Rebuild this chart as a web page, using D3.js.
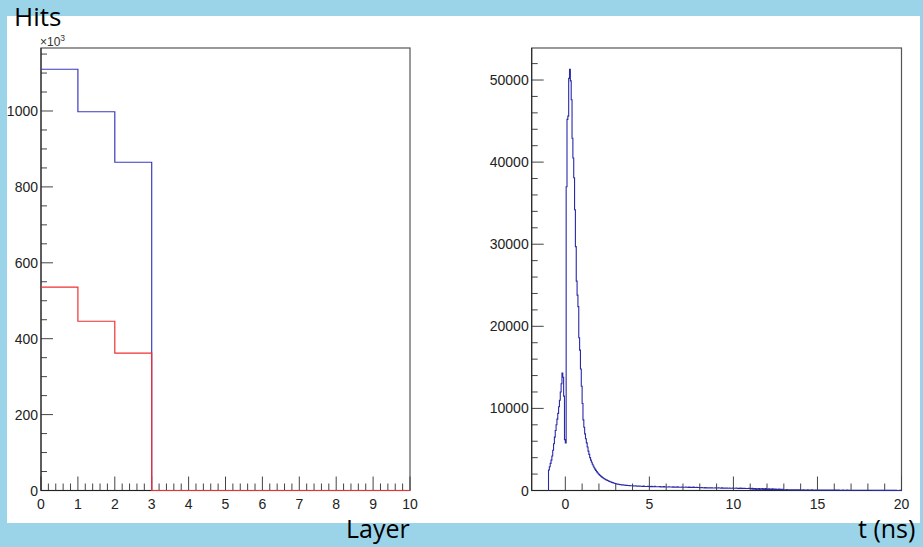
<!DOCTYPE html>
<html>
<head>
<meta charset="utf-8">
<script src="https://cdn.jsdelivr.net/npm/d3@7"></script>
<style>
  html, body { margin: 0; padding: 0; background: #9bd4e8; }
  svg { display: block; }
</style>
</head>
<body>
<svg id="chart" width="923" height="547"></svg>
<script>
// ---- Hits per layer (in units of 10^3), bin edges 0..10 ----
const layerEdges = [0, 1, 2, 3, 4, 5, 6, 7, 8, 9, 10];
const hitsAll  = [1110, 998, 865, 0, 0, 0, 0, 0, 0, 0];
const hitsSel  = [536, 446, 362, 0, 0, 0, 0, 0, 0, 0];
const layerTicks = [0, 1, 2, 3, 4, 5, 6, 7, 8, 9, 10];
const hitsTicks = [0, 200, 400, 600, 800, 1000];

// ---- Hit time distribution: 0.05 ns bins from -1 to 20 ns ----
const timeStart = -1;
const timeBinWidth = 0.05;
const timeCounts = [
  // -1 .. 0
  2500, 2900, 3300, 3700, 4200, 4900, 5700, 6500, 7300, 8000, 8700, 9400, 10200, 11000, 12000, 13000, 14300, 13800, 11500, 6200,
  // 0 .. 1
  5800, 37000, 45200, 45600, 50200, 51300, 49900, 47600, 42900, 40500, 38100, 34200, 29700, 25500, 23800, 22400, 18600, 17100, 14800, 12700,
  // 1 .. 2
  10600, 8600, 7700, 6900, 6300, 5800, 5300, 4800, 4400, 4000, 3700, 3450, 3200, 2980, 2780, 2600, 2450, 2300, 2160, 2040,
  // 2 .. 3
  1930, 1830, 1740, 1660, 1580, 1500, 1430, 1370, 1310, 1260, 1210, 1160, 1110, 1070, 1030, 990, 955, 920, 885, 855,
  // 3 .. 4
  825, 800, 780, 760, 740, 720, 705, 690, 680, 665, 650, 640, 630, 620, 610, 600, 592, 584, 576, 570,
  // 4 .. 5
  562, 556, 550, 580, 540, 535, 530, 525, 555, 515, 510, 506, 502, 530, 495, 491, 488, 485, 510, 480,
  // 5 .. 6
  476, 472, 520, 468, 465, 462, 500, 460, 456, 452, 450, 448, 490, 445, 442, 440, 438, 470, 435, 432,
  // 6 .. 7
  430, 428, 426, 460, 424, 420, 418, 416, 450, 414, 412, 410, 408, 440, 406, 404, 402, 400, 430, 398,
  // 7 .. 8
  396, 394, 392, 430, 390, 388, 386, 420, 384, 382, 380, 378, 415, 376, 374, 372, 405, 370, 368, 366,
  // 8 .. 9
  340, 335, 362, 330, 328, 325, 352, 322, 320, 318, 340, 316, 314, 312, 335, 310, 308, 306, 330, 304,
  // 9 .. 10
  302, 300, 325, 298, 296, 294, 318, 292, 290, 288, 286, 310, 284, 282, 280, 305, 278, 276, 274, 300,
  // 10 .. 11
  272, 270, 268, 290, 266, 264, 262, 260, 285, 258, 256, 254, 252, 278, 250, 248, 246, 244, 270, 242,
  // 11 .. 12
  240, 180, 260, 150, 230, 170, 250, 140, 220, 160, 240, 130, 210, 150, 235, 125, 200, 140, 225, 120,
  // 12 .. 13
  190, 130, 215, 115, 180, 125, 200, 110, 170, 120, 190, 105, 160, 110, 175, 100, 150, 105, 160, 95,
  // 13 .. 14
  95, 92, 90, 110, 88, 86, 84, 100, 82, 80, 79, 95, 78, 77, 76, 74, 90, 73, 72, 71,
  // 14 .. 15
  70, 69, 68, 80, 67, 66, 65, 64, 76, 63, 62, 61, 60, 72, 59, 58, 57, 56, 68, 55,
  // 15 .. 16
  55, 54, 53, 52, 60, 51, 50, 50, 49, 58, 48, 47, 46, 46, 55, 45, 44, 44, 43, 52,
  // 16 .. 17
  42, 42, 41, 40, 48, 40, 39, 38, 38, 37, 45, 36, 36, 35, 35, 42, 34, 34, 33, 33,
  // 17 .. 18
  32, 38, 31, 31, 30, 30, 29, 36, 29, 28, 28, 27, 27, 33, 26, 26, 25, 25, 24, 30,
  // 18 .. 19
  24, 23, 23, 22, 22, 28, 21, 21, 20, 20, 19, 19, 25, 18, 18, 17, 17, 16, 22, 16,
  // 19 .. 20
  15, 15, 14, 14, 20, 13, 13, 12, 12, 11, 11, 16, 10, 10, 9, 9, 8, 8, 12, 7
];
const timeTicks = [0, 5, 10, 15, 20];
const countTicks = [0, 10000, 20000, 30000, 40000, 50000];

const svg = d3.select("#chart");
const FONT = "'Liberation Sans', Arial, sans-serif";
const TITLE_FONT = "'Open Sans', 'Noto Sans', sans-serif";

// white slide panel
svg.append("rect").attr("x", 7).attr("y", 16).attr("width", 913).attr("height", 507).attr("fill", "#ffffff");

// histogram outline as steps; optionally rising from zero at the first edge
function histPath(x, y, edges, values, fromZero) {
  const pts = fromZero ? [[edges[0], 0]] : [];
  values.forEach((v, i) => { pts.push([edges[i], v]); pts.push([edges[i + 1], v]); });
  return d3.line().x(d => x(d[0])).y(d => y(d[1]))(pts);
}

function drawFrame(g, x, y) {
  const [xa, xb] = x.range();
  const [yb, ya] = y.range();
  g.append("rect").attr("x", xa).attr("y", ya).attr("width", xb - xa).attr("height", yb - ya)
    .attr("fill", "none").attr("stroke", "#555").attr("stroke-width", 1.2);
}

function drawTicks(g, x, y, opt) {
  const [xa, xb] = x.range();
  const [yb, ya] = y.range();
  const tk = g.append("g").attr("stroke", "#444").attr("stroke-width", 1);
  // x minor + major (pointing up into the frame)
  opt.xMinor.forEach(v => {
    tk.append("line").attr("x1", x(v)).attr("x2", x(v)).attr("y1", yb).attr("y2", yb - 7);
  });
  opt.xMajor.forEach(v => {
    tk.append("line").attr("x1", x(v)).attr("x2", x(v)).attr("y1", yb).attr("y2", yb - 14);
  });
  // y minor + major (pointing right into the frame)
  opt.yMinor.forEach(v => {
    tk.append("line").attr("x1", xa).attr("x2", xa + 6).attr("y1", y(v)).attr("y2", y(v));
  });
  opt.yMajor.forEach(v => {
    tk.append("line").attr("x1", xa).attr("x2", xa + 12).attr("y1", y(v)).attr("y2", y(v));
  });
  // axis lines
  g.append("line").attr("x1", xa).attr("x2", xb).attr("y1", yb).attr("y2", yb).attr("stroke", "#222");
  g.append("line").attr("x1", xa).attr("x2", xa).attr("y1", yb).attr("y2", ya).attr("stroke", "#222");
  // labels
  g.selectAll(".xl").data(opt.xMajor).enter().append("text")
    .attr("x", d => x(d)).attr("y", yb + 18).attr("text-anchor", "middle")
    .attr("font-family", FONT).attr("font-size", 14).attr("fill", "#222").text(d => d);
  g.selectAll(".yl").data(opt.yMajor).enter().append("text")
    .attr("x", xa - 3).attr("y", d => y(d)).attr("dy", "0.36em").attr("text-anchor", "end")
    .attr("font-family", FONT).attr("font-size", 14).attr("fill", "#222").text(d => d);
}

// ---------- left: hits per layer ----------
{
  const x = d3.scaleLinear().domain([0, 10]).range([41, 410]);
  const y = d3.scaleLinear().domain([0, 1166]).range([490.5, 48]);
  const g = svg.append("g");
  drawFrame(g, x, y);
  const xMinor = d3.range(0, 10.001, 0.2).filter(v => Math.abs(v - Math.round(v)) > 1e-6);
  const yMinor = d3.range(0, 1151, 50).filter(v => v % 200 !== 0);
  drawTicks(g, x, y, { xMajor: layerTicks, xMinor, yMajor: hitsTicks, yMinor });
  g.append("path").attr("d", histPath(x, y, layerEdges, hitsAll, false))
    .attr("fill", "none").attr("stroke", "#3b3bbf").attr("stroke-width", 1.2);
  g.append("path").attr("d", histPath(x, y, layerEdges, hitsSel, false))
    .attr("fill", "none").attr("stroke", "#f03030").attr("stroke-width", 1.2);
  const t = g.append("text").attr("x", 40).attr("y", 46).attr("font-family", FONT)
    .attr("font-size", 12).attr("fill", "#333");
  t.append("tspan").text("\u00d710");
  t.append("tspan").attr("dy", -5).attr("font-size", 8.5).text("3");
}

// ---------- right: hit time ----------
{
  const x = d3.scaleLinear().domain([-2, 20]).range([531.7, 901.5]);
  const y = d3.scaleLinear().domain([0, 53900]).range([490.5, 48]);
  const g = svg.append("g");
  drawFrame(g, x, y);
  const xMinor = d3.range(-1, 20, 1).filter(v => v % 5 !== 0);
  const yMinor = d3.range(0, 53901, 2000).filter(v => v % 10000 !== 0);
  drawTicks(g, x, y, { xMajor: timeTicks, xMinor, yMajor: countTicks, yMinor });
  const edges = d3.range(timeCounts.length + 1).map(i => timeStart + i * timeBinWidth);
  g.append("path").attr("d", histPath(x, y, edges, timeCounts, true))
    .attr("fill", "none").attr("stroke", "#2a2aa8").attr("stroke-width", 1.1);
}

// ---------- slide captions ----------
svg.append("text").attr("x", 14).attr("y", 26).attr("font-family", TITLE_FONT)
  .attr("font-size", 26).attr("fill", "#000").text("Hits");
svg.append("text").attr("x", 346).attr("y", 538).attr("font-family", TITLE_FONT)
  .attr("font-size", 25).attr("fill", "#000").text("Layer");
svg.append("text").attr("x", 858).attr("y", 538).attr("font-family", TITLE_FONT)
  .attr("font-size", 25).attr("fill", "#000").text("t (ns)");
</script>
</body>
</html>
